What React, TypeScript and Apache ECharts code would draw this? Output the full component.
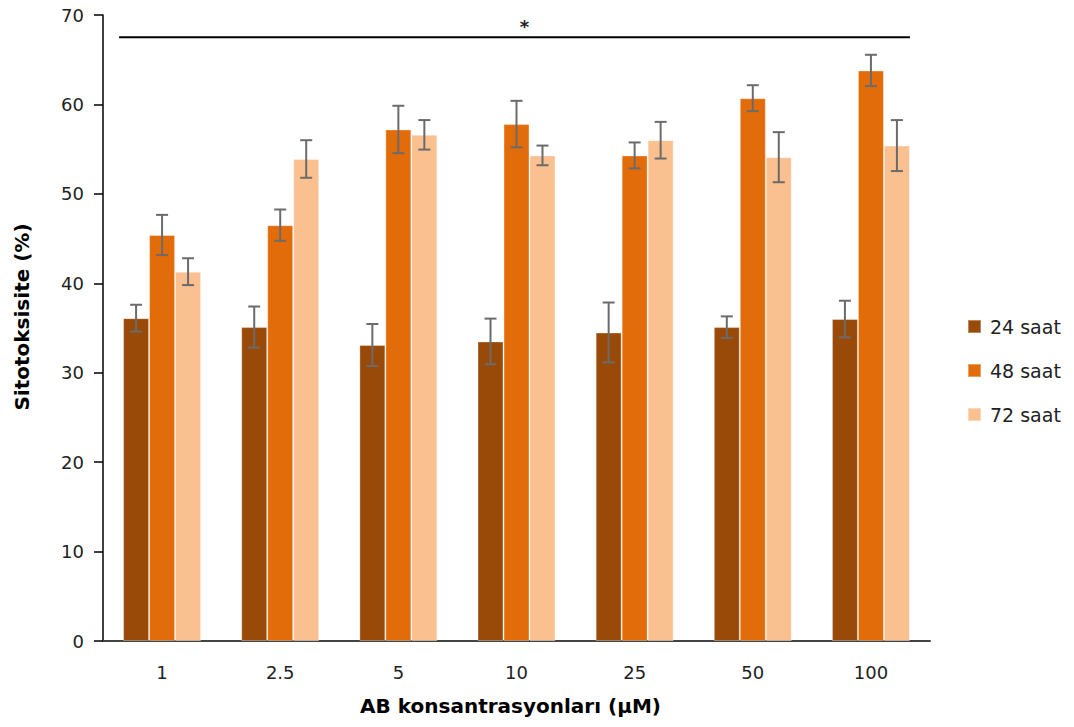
import React, { useEffect, useRef } from "react";
import * as echarts from "echarts";

const categories = ["1", "2.5", "5", "10", "25", "50", "100"];
const seriesNames = ["24 saat", "48 saat", "72 saat"];
const values24 = [36.1, 35.1, 33.1, 33.5, 34.5, 35.1, 36.0];
const values48 = [45.4, 46.5, 57.2, 57.8, 54.3, 60.7, 63.8];
const values72 = [41.3, 53.9, 56.6, 54.3, 56.0, 54.1, 55.4];
const errors24 = [1.5, 2.3, 2.35, 2.55, 3.35, 1.2, 2.05];
const errors48 = [2.25, 1.75, 2.65, 2.6, 1.45, 1.45, 1.75];
const errors72 = [1.5, 2.1, 1.65, 1.1, 2.05, 2.8, 2.85];
const colors = ["#994a09", "#e36c0a", "#fac090"];
const yTicks = { min: 0, max: 70, interval: 10 };
const sigLevel = 67.5;
const sigLabel = "*";

const CAT_GAP = 0.34;

export default function App() {
  const ref = useRef<HTMLDivElement>(null);
  useEffect(() => {
    if (!ref.current) return;
    const chart = echarts.init(ref.current, null, { renderer: "svg" });
    const allValues = [values24, values48, values72];
    const allErrors = [errors24, errors48, errors72];
    const errData: number[][] = [];
    allValues.forEach((vals, si) => {
      vals.forEach((v, ci) => {
        errData.push([ci, si, v - allErrors[si][ci], v + allErrors[si][ci]]);
      });
    });
    const barSeries = seriesNames.map((name, si) => ({
      name,
      type: "bar",
      data: allValues[si],
      barGap: "0%",
      barCategoryGap: CAT_GAP * 100 + "%",
      itemStyle: {
        color: colors[si],
        borderColor: "rgba(255,255,255,0.35)",
        borderWidth: 1,
      },
      z: 2,
    }));
    chart.setOption({
      animation: false,
      grid: { left: 103, right: 144, top: 15, bottom: 86, containLabel: false },
      legend: {
        data: seriesNames,
        orient: "vertical",
        left: 967,
        top: 317,
        padding: 0,
        itemWidth: 13,
        itemHeight: 13,
        itemGap: 25,
        icon: "rect",
        textStyle: {
          fontFamily: "DejaVu Sans",
          fontSize: 19,
          color: "#222",
          lineHeight: 19,
          padding: [0, 0, 0, 4],
        },
      },
      xAxis: {
        type: "category",
        data: categories,
        name: "AB konsantrasyonları (µM)",
        nameLocation: "middle",
        nameGap: 55,
        nameTextStyle: {
          fontFamily: "DejaVu Sans",
          fontWeight: "bold",
          fontSize: 20,
          color: "#000",
          padding: [0, 12, 0, 0],
        },
        axisLine: { lineStyle: { color: "#444", width: 2 } },
        axisTick: { show: false },
        axisLabel: {
          fontFamily: "DejaVu Sans",
          fontSize: 18,
          color: "#222",
          margin: 22,
        },
      },
      yAxis: {
        type: "value",
        min: yTicks.min,
        max: yTicks.max,
        interval: yTicks.interval,
        name: "Sitotoksisite (%)",
        nameLocation: "middle",
        nameGap: 71,
        nameTextStyle: {
          fontFamily: "DejaVu Sans",
          fontWeight: "bold",
          fontSize: 20,
          color: "#000",
          padding: [0, 0, 0, 22],
        },
        axisLine: { show: true, lineStyle: { color: "#000", width: 1.5 } },
        axisTick: { show: true, length: 9, lineStyle: { color: "#000", width: 1.5 } },
        splitLine: { show: false },
        axisLabel: {
          fontFamily: "DejaVu Sans",
          fontSize: 18,
          color: "#222",
          margin: 19,
        },
      },
      series: [
        ...barSeries,
        {
          type: "custom",
          name: "err",
          data: errData,
          encode: { x: 0, y: [2, 3] },
          z: 5,
          renderItem: (params: any, api: any) => {
            const ci = api.value(0);
            const si = api.value(1);
            const lo = api.value(2);
            const hi = api.value(3);
            const band = api.size([1, 0])[0];
            const barW = (band * (1 - CAT_GAP)) / 3;
            const pLo = api.coord([ci, lo]);
            const pHi = api.coord([ci, hi]);
            const x = pLo[0] + (si - 1) * barW;
            const cap = 6;
            const style = { stroke: "#6b6b6b", lineWidth: 2 };
            return {
              type: "group",
              children: [
                { type: "line", shape: { x1: x, y1: pLo[1], x2: x, y2: pHi[1] }, style },
                { type: "line", shape: { x1: x - cap, y1: pLo[1], x2: x + cap, y2: pLo[1] }, style },
                { type: "line", shape: { x1: x - cap, y1: pHi[1], x2: x + cap, y2: pHi[1] }, style },
              ],
            };
          },
        },
        {
          type: "custom",
          name: "sig",
          data: [[0, categories.length - 1, sigLevel]],
          encode: { x: 0, y: 2 },
          z: 5,
          clip: false,
          renderItem: (params: any, api: any) => {
            const c0 = api.value(0);
            const c1 = api.value(1);
            const lvl = api.value(2);
            const band = api.size([1, 0])[0];
            const barW = (band * (1 - CAT_GAP)) / 3;
            const pL = api.coord([c0, lvl]);
            const pR = api.coord([c1, lvl]);
            const x1 = pL[0] - 1.5 * barW - 4;
            const x2 = pR[0] + 1.5 * barW;
            return {
              type: "group",
              children: [
                {
                  type: "line",
                  shape: { x1, y1: pL[1], x2, y2: pL[1] },
                  style: { stroke: "#000", lineWidth: 2 },
                },
                {
                  type: "text",
                  style: {
                    text: sigLabel,
                    x: (x1 + x2) / 2 + 10,
                    y: pL[1] - 2,
                    align: "center",
                    verticalAlign: "bottom",
                    fontFamily: "DejaVu Sans",
                    fontWeight: "bold",
                    fontSize: 18,
                    fill: "#222",
                  },
                },
              ],
            };
          },
        },
      ],
    });
    return () => chart.dispose();
  }, []);
  return (
    <div
      ref={ref}
      style={{ position: "absolute", left: 0, top: 0, width: 1074, height: 727, background: "#fff" }}
    />
  );
}
